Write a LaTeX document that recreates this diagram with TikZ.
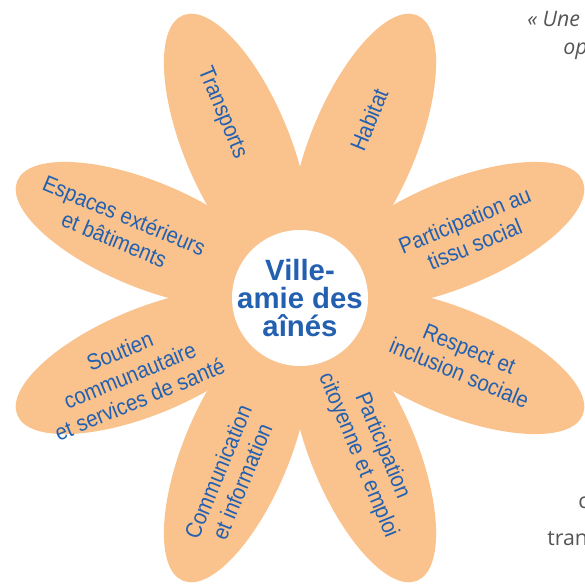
\documentclass[tikz,border=0pt]{standalone}
\usepackage{fontspec}
\setmainfont{Liberation Sans}
\newfontfamily\petalfont[FakeStretch=0.9]{Liberation Sans}
\newfontfamily\bordfont{Open Sans}
\usetikzlibrary{positioning,calc}
\definecolor{petalorange}{RGB}{250,195,142}
\definecolor{villeblue}{RGB}{35,96,176}
\definecolor{bordgray}{RGB}{85,85,85}
\tikzset{
    petal/.style={fill=petalorange},
    petaltext/.style={text=villeblue, align=center, inner sep=0pt, font=\petalfont\fontsize{17}{19.5}\selectfont},
    bordtexte/.style={text=bordgray, inner sep=0pt, anchor=base west, font=\bordfont\fontsize{16}{18}\selectfont}
}
\begin{document}
\begin{tikzpicture}[
					x=0.75pt, y=0.75pt,
					% Style du cercle central
					hub/.style={
						circle, 
						fill=white, 
						minimum size=102pt, 
						inner sep=0pt
					},
					% Style du texte central (gras, bleu)
					hubtext/.style={
						text=villeblue,
						align=center,
						inner sep=0pt,
						font=\bfseries\fontsize{22}{21}\selectfont
					}
				]
					\useasboundingbox (-300,-288) rectangle (285,298);
					\clip (-300,-288) rectangle (285,298);
					
					% --- PÉTALES ---
					\foreach \a in {22.5,67.5,...,337.5}
						\fill[petal, rotate=\a] (166,0) ellipse [x radius=140, y radius=53];
					
					% --- CENTRE ---
					\node[hub] (hub) at (0,0) {};
					\node[hubtext] (hubtext) at (hub) {Ville-\\amie des\\aînés};
					
					% --- TEXTES DES PÉTALES ---
					\node[petaltext, rotate=-67.5] (transports) at (112.9:201) {Transports};
					\node[petaltext, rotate=67.5] (habitat) at (68.8:191) {Habitat};
					\node[petaltext, rotate=22.5] (tissu) at (21.2:182) {Participation au\\tissu social};
					\node[petaltext, rotate=-22.5] (respect) at (-21:176) {Respect et\\inclusion sociale};
					\node[petaltext, rotate=-67.5] (emploi) at (-65.4:168) {Participation\\citoyenne et emploi};
					\node[petaltext, rotate=67.5] (communication) at (-111.4:192) {Communication\\et information};
					\node[petaltext, rotate=22.5] (soutien) at (-155.6:187) {Soutien\\communautaire\\et services de santé};
					\node[petaltext, rotate=-22.5] (espaces) at (158.6:194) {Espaces extérieurs\\et bâtiments};
					
					% --- TEXTE COUPÉ AU BORD ---
					\node[bordtexte] (une) at (227,271) {\itshape «~Une};
					\node[bordtexte] (op) at (263,243) {\itshape op};
					\node[bordtexte] (c) at (278,-210) {c};
					\node[bordtexte] (tran) at (247,-247) {tran};
					
				\end{tikzpicture}
\end{document}
